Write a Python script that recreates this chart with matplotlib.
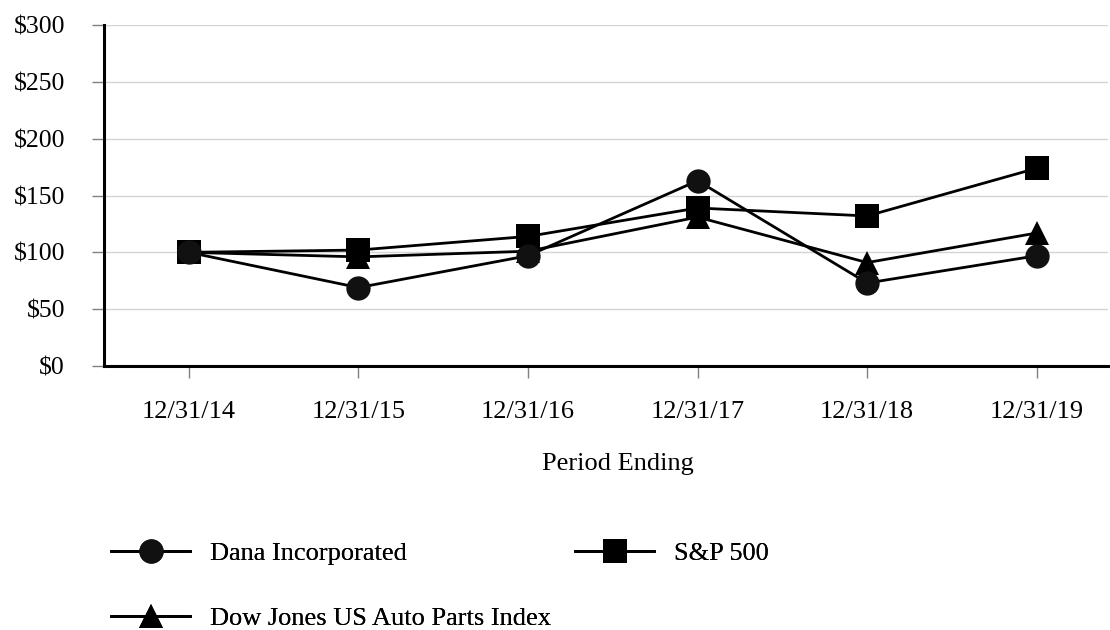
import matplotlib.pyplot as plt
from matplotlib.ticker import FuncFormatter

plt.rcParams['font.family'] = ['Liberation Serif', 'DejaVu Serif']

periodos = ['12/31/14', '12/31/15', '12/31/16', '12/31/17', '12/31/18', '12/31/19']
dana = [100, 69, 97, 163, 73, 97]
sp500 = [100, 102, 114, 139, 132, 174]
dow_auto = [100, 96, 101, 131, 91, 117]

fig = plt.figure(figsize=(11.1, 6.3), dpi=100)
ax = fig.add_axes([104/1110, 1-366/630, 1004/1110, 341/630])

x = range(len(periodos))
l_dow, = ax.plot(x, dow_auto, color='black', lw=2, marker='^', ms=17.5,
                 mfc='black', mec='black', mew=0, clip_on=False, zorder=3)
l_sp, = ax.plot(x, sp500, color='black', lw=2, marker='s', ms=17.5,
                mfc='black', mec='black', mew=0, clip_on=False, zorder=4)
l_dana, = ax.plot(x, dana, color='black', lw=2, marker='o', ms=17.5,
                  mfc='#111111', mec='#111111', mew=0, clip_on=False, zorder=5)

ax.set_xlim(-0.5, 5.42)
ax.set_ylim(0, 300)
ax.set_yticks(range(0, 301, 50))
ax.yaxis.set_major_formatter(FuncFormatter(lambda v, p: '$%d' % v))
ax.set_xticks(list(x))
ax.set_xticklabels(periodos)
ax.grid(axis='y', color='#d4d4d4', lw=1)
ax.set_axisbelow(True)

for s in ['top', 'right']:
    ax.spines[s].set_visible(False)
for s in ['left', 'bottom']:
    ax.spines[s].set_linewidth(2.2)
    ax.spines[s].set_color('black')

ax.tick_params(axis='both', color='#808080', width=1)
ax.tick_params(axis='y', length=9, pad=19, labelsize=18.5)
ax.tick_params(axis='x', length=8.5, pad=17, labelsize=19)
ax.set_xlabel('Period Ending', fontsize=19, labelpad=16)
ax.xaxis.set_label_coords(0.512, -0.255)

# leyenda: cada entrada en su sitio
opts = dict(loc='center left', frameon=False, fontsize=19, borderpad=0,
            borderaxespad=0, handlelength=3.0, handletextpad=0.76)
entradas = [(l_dana, 'Dana Incorporated', 111, 553),
            (l_sp, 'S&P 500', 575, 553),
            (l_dow, 'Dow Jones US Auto Parts Index', 111, 618)]
for h, txt, px, py in entradas:
    leg = fig.legend([h], [txt], bbox_to_anchor=(px/1110, 1-py/630), **opts)
    fig.add_artist(leg)

fig.savefig('out.png', dpi=100)
